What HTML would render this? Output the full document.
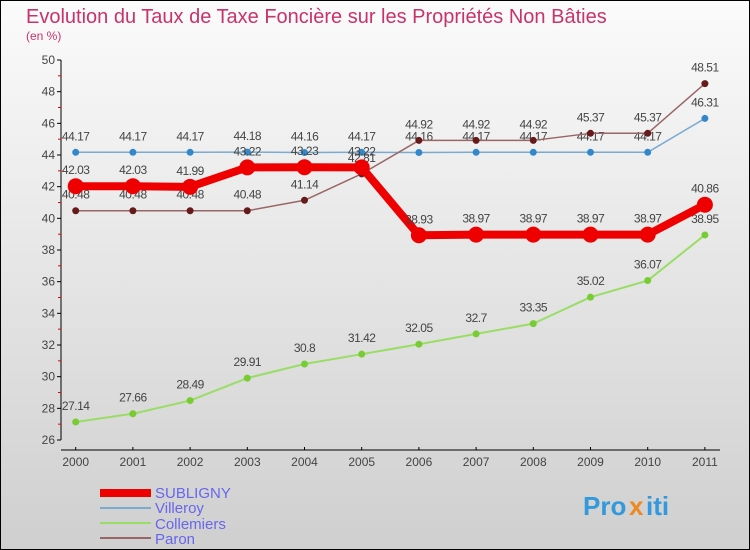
<!DOCTYPE html>
<html><head><meta charset="utf-8"><style>
body{margin:0;width:750px;height:550px;overflow:hidden;font-family:"Liberation Sans",sans-serif}
svg{display:block}
</style></head><body>
<svg width="750" height="550" xmlns="http://www.w3.org/2000/svg">
<defs><linearGradient id="bg" x1="0" y1="0" x2="0" y2="1"><stop offset="0" stop-color="#fbfbfb"/><stop offset="1" stop-color="#cfcfcf"/></linearGradient></defs>
<rect x="0.5" y="0.5" width="749" height="549" fill="url(#bg)" stroke="#000"/>
<text x="26" y="23" font-size="20" fill="#c8336a">Evolution du Taux de Taxe Foncière sur les Propriétés Non Bâties</text>
<text x="26" y="40" font-size="12" fill="#c8336a">(en %)</text>
<g id="axes"></g>
<g id="series"></g>
<g id="legend" font-size="15" fill="#6666ee">
<rect x="100" y="489" width="51" height="8" fill="#e00"/>
<text x="155" y="498">SUBLIGNY</text>
<rect x="100" y="507" width="51" height="2" fill="#7aaad0"/>
<text x="155" y="513">Villeroy</text>
<rect x="100" y="522" width="51" height="2" fill="#99dd66"/>
<text x="155" y="529">Collemiers</text>
<rect x="100" y="537" width="51" height="2" fill="#996666"/>
<text x="155" y="544">Paron</text>
</g>
<g font-size="26" font-weight="bold">
<text x="583" y="515" fill="#3399dd">Pro</text><text x="629" y="515" fill="#ee8822">x</text><text x="646" y="515" fill="#3399dd">iti</text>
</g>
</svg>
<script>
const years=[2000,2001,2002,2003,2004,2005,2006,2007,2008,2009,2010,2011];
const yTicks=[26,28,30,32,34,36,38,40,42,44,46,48,50];
const subligny=[42.03,42.03,41.99,43.22,43.23,43.22,38.93,38.97,38.97,38.97,38.97,40.86];
const villeroy=[44.17,44.17,44.17,44.18,44.16,44.17,44.16,44.17,44.17,44.17,44.17,46.31];
const collemiers=[27.14,27.66,28.49,29.91,30.8,31.42,32.05,32.7,33.35,35.02,36.07,38.95];
const paron=[40.48,40.48,40.48,40.48,41.14,42.81,44.92,44.92,44.92,45.37,45.37,48.51];
const NS="http://www.w3.org/2000/svg";
const X=i=>75.7+i*57.2;
const Y=v=>440-(v-26)*(380/24);
function mk(t,a,p){const e=document.createElementNS(NS,t);for(const k in a)e.setAttribute(k,a[k]);p.appendChild(e);return e;}
const ax=document.getElementById('axes');
let e=mk('line',{x1:61,y1:60,x2:61,y2:440,stroke:'#000'},ax);


e=mk('line',{x1:61,y1:450,x2:720,y2:450,stroke:'#000'},ax);


yTicks.forEach((v,i)=>{
  mk('line',{x1:57,y1:Y(v),x2:61,y2:Y(v),stroke:'#000'},ax);
  if(i<yTicks.length-1)mk('line',{x1:58,y1:Y(v+1),x2:61,y2:Y(v+1),stroke:'#e00'},ax);
  const t=mk('text',{x:55,y:Y(v)+4,'font-size':12,fill:'#444','text-anchor':'end'},ax);t.textContent=v;
  
  
});
years.forEach((y,i)=>{
  mk('line',{x1:X(i),y1:447,x2:X(i),y2:450,stroke:'#000'},ax);
  const t=mk('text',{x:X(i),y:466,'font-size':12,fill:'#444','text-anchor':'middle'},ax);t.textContent=y;
  
  
});
const sg=document.getElementById('series');
function draw(data,name,color,dot,w,r){
  const g=mk('g',{},sg);
  
  
  const l=mk('polyline',{points:data.map((v,i)=>X(i)+','+Y(v)).join(' '),fill:'none',stroke:color,'stroke-width':w,'stroke-linejoin':'round'},g);
  
  
  data.forEach((v,i)=>{
    const c=mk('circle',{cx:X(i),cy:Y(v),r:r,fill:dot},g);
    
    
    const t=mk('text',{x:X(i),y:Y(v)-12,'font-size':12,fill:'#444','text-anchor':'middle','letter-spacing':'-0.5'},g);
    t.textContent=String(v);
    
    
  });
}
draw(collemiers,'collemiers','#99dd66','#77cc33',2,3.5);
draw(villeroy,'villeroy','#7aaad0','#3388cc',1.5,3.5);
draw(paron,'paron','#996666','#661a1a',1.5,3.5);
draw(subligny,'subligny','#ee0000','#ee0000',8,8);
</script>
</body></html>
